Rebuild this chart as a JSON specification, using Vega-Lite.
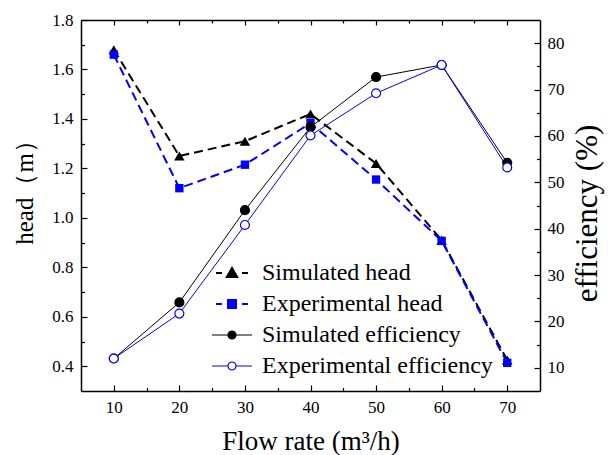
{
  "$schema": "https://vega.github.io/schema/vega-lite/v6.json",
  "width": 459,
  "height": 371,
  "autosize": "none",
  "padding": {"left": 81, "top": 20, "right": 68, "bottom": 64},
  "background": "white",
  "config": {
    "view": {"stroke": null},
    "font": "Liberation Serif",
    "axis": {
      "grid": false,
      "domainColor": "black",
      "domainWidth": 1.5,
      "tickColor": "black",
      "tickWidth": 1.2,
      "labelColor": "black",
      "titleColor": "black",
      "labelFont": "Liberation Serif",
      "titleFont": "Liberation Serif",
      "labelFontSize": 17,
      "titleFontSize": 25,
      "titleFontWeight": "normal"
    },
    "legend": {
      "labelFont": "Liberation Serif",
      "labelFontSize": 24,
      "labelColor": "black",
      "labelLimit": 400
    }
  },
  "datasets": {
    "head": [
      {"flow": 10, "series": "Simulated head", "value": 1.68},
      {"flow": 20, "series": "Simulated head", "value": 1.25},
      {"flow": 30, "series": "Simulated head", "value": 1.31},
      {"flow": 40, "series": "Simulated head", "value": 1.42},
      {"flow": 50, "series": "Simulated head", "value": 1.22},
      {"flow": 60, "series": "Simulated head", "value": 0.91},
      {"flow": 70, "series": "Simulated head", "value": 0.425},
      {"flow": 10, "series": "Experimental head", "value": 1.66},
      {"flow": 20, "series": "Experimental head", "value": 1.12},
      {"flow": 30, "series": "Experimental head", "value": 1.215},
      {"flow": 40, "series": "Experimental head", "value": 1.383},
      {"flow": 50, "series": "Experimental head", "value": 1.155},
      {"flow": 60, "series": "Experimental head", "value": 0.907},
      {"flow": 70, "series": "Experimental head", "value": 0.414}
    ],
    "eff": [
      {"flow": 10, "series": "Simulated efficiency", "value": 12.0},
      {"flow": 20, "series": "Simulated efficiency", "value": 24.1},
      {"flow": 30, "series": "Simulated efficiency", "value": 44.0},
      {"flow": 40, "series": "Simulated efficiency", "value": 61.9},
      {"flow": 50, "series": "Simulated efficiency", "value": 72.7},
      {"flow": 60, "series": "Simulated efficiency", "value": 75.3},
      {"flow": 70, "series": "Simulated efficiency", "value": 54.2},
      {"flow": 10, "series": "Experimental efficiency", "value": 12.0},
      {"flow": 20, "series": "Experimental efficiency", "value": 21.7},
      {"flow": 30, "series": "Experimental efficiency", "value": 40.8},
      {"flow": 40, "series": "Experimental efficiency", "value": 60.1},
      {"flow": 50, "series": "Experimental efficiency", "value": 69.2},
      {"flow": 60, "series": "Experimental efficiency", "value": 75.3},
      {"flow": 70, "series": "Experimental efficiency", "value": 53.2}
    ]
  },
  "layer": [
    {
      "data": {"name": "head"},
      "encoding": {
        "x": {
          "field": "flow",
          "type": "quantitative",
          "scale": {"domain": [5, 75], "nice": false, "zero": false},
          "axis": {
            "orient": "bottom",
            "title": "Flow rate (m³/h)",
            "titleFont": "Liberation Serif",
            "titleFontSize": 27,
            "labelFont": "Liberation Serif",
            "labelFontSize": 17,
            "values": [10, 15, 20, 25, 30, 35, 40, 45, 50, 55, 60, 65, 70],
            "labelExpr": "datum.value % 10 === 0 ? datum.label : ''",
            "tickSize": {"condition": {"test": "datum.value % 10 === 0", "value": -6}, "value": -3.5},
            "labelPadding": 14,
            "titlePadding": 13
          }
        },
        "y": {
          "field": "value",
          "type": "quantitative",
          "scale": {"domain": [0.3, 1.8], "nice": false, "zero": false},
          "axis": {
            "orient": "left",
            "title": "head（m）",
            "titleFont": "Liberation Serif",
            "titleFontSize": 25,
            "titleY": 166,
            "labelFont": "Liberation Serif",
            "labelFontSize": 17,
            "format": ".1f",
            "values": [0.4, 0.5, 0.6, 0.7, 0.8, 0.9, 1.0, 1.1, 1.2, 1.3, 1.4, 1.5, 1.6, 1.7, 1.8],
            "labelExpr": "round(datum.value * 10) % 2 === 0 ? datum.label : ''",
            "tickSize": {"condition": {"test": "round(datum.value * 10) % 2 === 0", "value": -6}, "value": -3.5},
            "labelPadding": 14,
            "titlePadding": 14
          }
        }
      },
      "layer": [
        {
          "mark": {"type": "line", "strokeDash": [9, 5], "strokeWidth": 2},
          "encoding": {
            "color": {
              "field": "series",
              "type": "nominal",
              "scale": {
                "domain": ["Simulated head", "Experimental head", "Simulated efficiency", "Experimental efficiency"],
                "range": ["black", "blue", "black", "blue"]
              },
              "legend": {
                "title": null,
                "orient": "none",
                "legendX": 139,
                "legendY": 241,
                "padding": 0,
                "symbolSize": 1600,
                "labelOffset": 18,
                "rowPadding": 7,
                "labelFont": "Liberation Serif",
                "labelFontSize": 24,
                "encode": {
                  "symbols": {
                    "update": {
                      "shape": {"signal": "datum.value === 'Simulated head' ? 'M-0.8,0L-0.5,0M0.5,0L0.8,0M-0.26,0.2L0,-0.25L0.26,0.2Z' : datum.value === 'Experimental head' ? 'M-0.8,0L-0.5,0M0.5,0L0.8,0M-0.2,-0.2L0.2,-0.2L0.2,0.2L-0.2,0.2Z' : datum.value === 'Simulated efficiency' ? 'M-1,0L-0.2,0M0.2,0L1,0M-0.2,0A0.2,0.2 0 1,0 0.2,0A0.2,0.2 0 1,0 -0.2,0Z' : 'M-1,0L-0.2,0M0.2,0L1,0M-0.2,0A0.2,0.2 0 1,0 0.2,0A0.2,0.2 0 1,0 -0.2,0ZM-0.2,0A0.2,0.2 0 1,1 0.2,0A0.2,0.2 0 1,1 -0.2,0Z'"},
                      "fill": {"signal": "datum.value === 'Experimental efficiency' ? 'white' : datum.value === 'Experimental head' ? 'blue' : 'black'"},
                      "stroke": {"signal": "datum.value === 'Experimental efficiency' || datum.value === 'Experimental head' ? 'blue' : 'black'"},
                      "strokeWidth": {"signal": "datum.value === 'Simulated head' || datum.value === 'Experimental head' ? 2 : 1.2"},
                      "strokeDash": {"value": []},
                      "size": {"value": 1600},
                      "opacity": {"value": 1},
                      "fillOpacity": {"value": 1},
                      "strokeOpacity": {"value": 1}
                    }
                  }
                }
              }
            }
          }
        },
        {
          "mark": {"type": "point", "filled": true, "opacity": 1},
          "encoding": {
            "color": {"field": "series", "type": "nominal"},
            "shape": {"condition": {"test": "datum.series === 'Simulated head'", "value": "triangle-up"}, "value": "square"},
            "size": {"condition": {"test": "datum.series === 'Simulated head'", "value": 110}, "value": 70}
          }
        }
      ]
    },
    {
      "data": {"name": "eff"},
      "encoding": {
        "x": {
          "field": "flow",
          "type": "quantitative",
          "scale": {"domain": [5, 75], "nice": false, "zero": false},
          "axis": {
            "orient": "top",
            "title": null,
            "labels": false,
            "values": [10, 15, 20, 25, 30, 35, 40, 45, 50, 55, 60, 65, 70],
            "tickSize": {"condition": {"test": "datum.value % 10 === 0", "value": -5}, "value": -3}
          }
        },
        "y": {
          "field": "value",
          "type": "quantitative",
          "scale": {"domain": [5, 85], "nice": false, "zero": false},
          "axis": {
            "orient": "right",
            "title": "efficiency (%)",
            "titleFont": "Liberation Serif",
            "titleFontSize": 31,
            "titleAngle": 270,
            "titleBaseline": "top",
            "titleY": 193,
            "labelFont": "Liberation Serif",
            "labelFontSize": 17,
            "values": [10, 15, 20, 25, 30, 35, 40, 45, 50, 55, 60, 65, 70, 75, 80],
            "labelExpr": "datum.value % 10 === 0 ? datum.label : ''",
            "tickSize": {"condition": {"test": "datum.value % 10 === 0", "value": -6}, "value": -3.5},
            "labelPadding": 13,
            "titlePadding": 8
          }
        }
      },
      "layer": [
        {
          "mark": {"type": "line", "strokeWidth": 1},
          "encoding": {
            "color": {"field": "series", "type": "nominal"}
          }
        },
        {
          "mark": {"type": "point", "filled": true, "opacity": 1, "size": 80, "strokeWidth": 1.2},
          "encoding": {
            "fill": {"condition": {"test": "datum.series === 'Experimental efficiency'", "value": "white"}, "value": "black"},
            "stroke": {"condition": {"test": "datum.series === 'Experimental efficiency'", "value": "blue"}, "value": "black"}
          }
        }
      ]
    }
  ],
  "resolve": {"scale": {"y": "independent"}, "axis": {"x": "independent"}}
}
